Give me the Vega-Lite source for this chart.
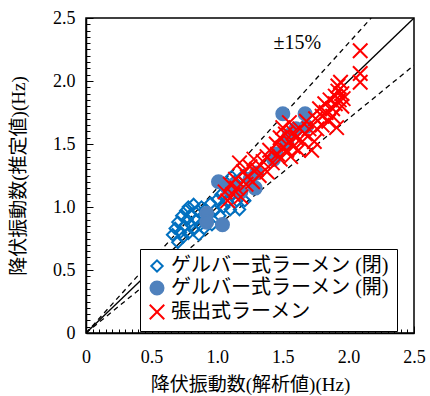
{
  "$schema": "https://vega.github.io/schema/vega-lite/v6.json",
  "width": 328,
  "height": 315,
  "autosize": {"type": "none"},
  "padding": {"left": 86, "top": 18, "right": 16, "bottom": 63},
  "background": "white",
  "config": {
    "view": {"stroke": "black", "strokeWidth": 1.5},
    "axis": {"grid": false, "tickColor": "black", "tickWidth": 1, "domainColor": "black", "domainWidth": 1.5,
      "labelFont": "Liberation Serif", "labelFontSize": 18, "labelColor": "black", "labelOverlap": false, "labelFlush": false,
      "titleFont": "Liberation Serif, Noto Sans CJK JP", "titleFontSize": 19, "titleFontWeight": "normal", "titleColor": "black"}
  },
  "resolve": {"axis": {"x": "independent", "y": "independent"}},
  "datasets": {
    "pts": [
      {"t": "ゲルバー式ラーメン (閉)", "x": 0.66, "y": 0.78},
      {"t": "ゲルバー式ラーメン (閉)", "x": 0.68, "y": 0.83},
      {"t": "ゲルバー式ラーメン (閉)", "x": 0.70, "y": 0.72},
      {"t": "ゲルバー式ラーメン (閉)", "x": 0.70, "y": 0.88},
      {"t": "ゲルバー式ラーメン (閉)", "x": 0.72, "y": 0.80},
      {"t": "ゲルバー式ラーメン (閉)", "x": 0.73, "y": 0.93},
      {"t": "ゲルバー式ラーメン (閉)", "x": 0.74, "y": 0.76},
      {"t": "ゲルバー式ラーメン (閉)", "x": 0.75, "y": 0.85},
      {"t": "ゲルバー式ラーメン (閉)", "x": 0.76, "y": 0.97},
      {"t": "ゲルバー式ラーメン (閉)", "x": 0.77, "y": 0.90},
      {"t": "ゲルバー式ラーメン (閉)", "x": 0.78, "y": 0.79},
      {"t": "ゲルバー式ラーメン (閉)", "x": 0.78, "y": 1.00},
      {"t": "ゲルバー式ラーメン (閉)", "x": 0.80, "y": 0.86},
      {"t": "ゲルバー式ラーメン (閉)", "x": 0.80, "y": 0.94},
      {"t": "ゲルバー式ラーメン (閉)", "x": 0.82, "y": 0.82},
      {"t": "ゲルバー式ラーメン (閉)", "x": 0.82, "y": 1.02},
      {"t": "ゲルバー式ラーメン (閉)", "x": 0.84, "y": 0.90},
      {"t": "ゲルバー式ラーメン (閉)", "x": 0.85, "y": 0.97},
      {"t": "ゲルバー式ラーメン (閉)", "x": 0.86, "y": 0.78},
      {"t": "ゲルバー式ラーメン (閉)", "x": 0.87, "y": 0.86},
      {"t": "ゲルバー式ラーメン (閉)", "x": 0.88, "y": 1.00},
      {"t": "ゲルバー式ラーメン (閉)", "x": 0.89, "y": 0.93},
      {"t": "ゲルバー式ラーメン (閉)", "x": 0.90, "y": 0.83},
      {"t": "ゲルバー式ラーメン (閉)", "x": 0.91, "y": 0.98},
      {"t": "ゲルバー式ラーメン (閉)", "x": 0.92, "y": 0.88},
      {"t": "ゲルバー式ラーメン (閉)", "x": 0.94, "y": 0.94},
      {"t": "ゲルバー式ラーメン (閉)", "x": 0.95, "y": 1.03},
      {"t": "ゲルバー式ラーメン (閉)", "x": 0.96, "y": 0.86},
      {"t": "ゲルバー式ラーメン (閉)", "x": 0.98, "y": 0.97},
      {"t": "ゲルバー式ラーメン (閉)", "x": 1.00, "y": 1.06},
      {"t": "ゲルバー式ラーメン (閉)", "x": 1.02, "y": 0.93},
      {"t": "ゲルバー式ラーメン (閉)", "x": 1.03, "y": 1.10},
      {"t": "ゲルバー式ラーメン (閉)", "x": 1.05, "y": 1.00},
      {"t": "ゲルバー式ラーメン (閉)", "x": 1.07, "y": 1.14},
      {"t": "ゲルバー式ラーメン (閉)", "x": 1.08, "y": 1.04},
      {"t": "ゲルバー式ラーメン (閉)", "x": 1.10, "y": 0.98},
      {"t": "ゲルバー式ラーメン (閉)", "x": 1.11, "y": 1.24},
      {"t": "ゲルバー式ラーメン (閉)", "x": 1.12, "y": 1.10},
      {"t": "ゲルバー式ラーメン (閉)", "x": 1.13, "y": 1.20},
      {"t": "ゲルバー式ラーメン (閉)", "x": 1.15, "y": 1.05},
      {"t": "ゲルバー式ラーメン (閉)", "x": 1.17, "y": 0.98},
      {"t": "ゲルバー式ラーメン (閉)", "x": 1.18, "y": 1.13},
      {"t": "ゲルバー式ラーメン (閉)", "x": 1.20, "y": 1.25},
      {"t": "ゲルバー式ラーメン (閉)", "x": 1.21, "y": 1.05},
      {"t": "ゲルバー式ラーメン (開)", "x": 0.92, "y": 0.95},
      {"t": "ゲルバー式ラーメン (開)", "x": 0.92, "y": 0.88},
      {"t": "ゲルバー式ラーメン (開)", "x": 1.04, "y": 0.86},
      {"t": "ゲルバー式ラーメン (開)", "x": 1.01, "y": 1.20},
      {"t": "ゲルバー式ラーメン (開)", "x": 1.08, "y": 1.15},
      {"t": "ゲルバー式ラーメン (開)", "x": 1.12, "y": 1.17},
      {"t": "ゲルバー式ラーメン (開)", "x": 1.18, "y": 1.12},
      {"t": "ゲルバー式ラーメン (開)", "x": 1.29, "y": 1.15},
      {"t": "ゲルバー式ラーメン (開)", "x": 1.30, "y": 1.27},
      {"t": "ゲルバー式ラーメン (開)", "x": 1.25, "y": 1.22},
      {"t": "ゲルバー式ラーメン (開)", "x": 1.43, "y": 1.38},
      {"t": "ゲルバー式ラーメン (開)", "x": 1.45, "y": 1.42},
      {"t": "ゲルバー式ラーメン (開)", "x": 1.53, "y": 1.51},
      {"t": "ゲルバー式ラーメン (開)", "x": 1.55, "y": 1.57},
      {"t": "ゲルバー式ラーメン (開)", "x": 1.50, "y": 1.74},
      {"t": "ゲルバー式ラーメン (開)", "x": 1.67, "y": 1.74},
      {"t": "ゲルバー式ラーメン (開)", "x": 1.68, "y": 1.64},
      {"t": "ゲルバー式ラーメン (開)", "x": 1.60, "y": 1.62},
      {"t": "張出式ラーメン", "x": 1.06, "y": 1.12},
      {"t": "張出式ラーメン", "x": 1.08, "y": 1.05},
      {"t": "張出式ラーメン", "x": 1.10, "y": 1.18},
      {"t": "張出式ラーメン", "x": 1.12, "y": 1.10},
      {"t": "張出式ラーメン", "x": 1.14, "y": 1.22},
      {"t": "張出式ラーメン", "x": 1.15, "y": 1.15},
      {"t": "張出式ラーメン", "x": 1.17, "y": 1.35},
      {"t": "張出式ラーメン", "x": 1.18, "y": 1.08},
      {"t": "張出式ラーメン", "x": 1.20, "y": 1.28},
      {"t": "張出式ラーメン", "x": 1.22, "y": 1.18},
      {"t": "張出式ラーメン", "x": 1.23, "y": 1.24},
      {"t": "張出式ラーメン", "x": 1.25, "y": 1.32},
      {"t": "張出式ラーメン", "x": 1.27, "y": 1.20},
      {"t": "張出式ラーメン", "x": 1.28, "y": 1.38},
      {"t": "張出式ラーメン", "x": 1.30, "y": 1.30},
      {"t": "張出式ラーメン", "x": 1.32, "y": 1.25},
      {"t": "張出式ラーメン", "x": 1.35, "y": 1.36},
      {"t": "張出式ラーメン", "x": 1.38, "y": 1.40},
      {"t": "張出式ラーメン", "x": 1.38, "y": 1.28},
      {"t": "張出式ラーメン", "x": 1.40, "y": 1.45},
      {"t": "張出式ラーメン", "x": 1.42, "y": 1.35},
      {"t": "張出式ラーメン", "x": 1.45, "y": 1.50},
      {"t": "張出式ラーメン", "x": 1.46, "y": 1.42},
      {"t": "張出式ラーメン", "x": 1.48, "y": 1.55},
      {"t": "張出式ラーメン", "x": 1.48, "y": 1.38},
      {"t": "張出式ラーメン", "x": 1.50, "y": 1.63},
      {"t": "張出式ラーメン", "x": 1.50, "y": 1.47},
      {"t": "張出式ラーメン", "x": 1.52, "y": 1.58},
      {"t": "張出式ラーメン", "x": 1.53, "y": 1.45},
      {"t": "張出式ラーメン", "x": 1.55, "y": 1.67},
      {"t": "張出式ラーメン", "x": 1.55, "y": 1.52},
      {"t": "張出式ラーメン", "x": 1.56, "y": 1.40},
      {"t": "張出式ラーメン", "x": 1.58, "y": 1.59},
      {"t": "張出式ラーメン", "x": 1.58, "y": 1.48},
      {"t": "張出式ラーメン", "x": 1.60, "y": 1.55},
      {"t": "張出式ラーメン", "x": 1.62, "y": 1.45},
      {"t": "張出式ラーメン", "x": 1.63, "y": 1.62},
      {"t": "張出式ラーメン", "x": 1.65, "y": 1.52},
      {"t": "張出式ラーメン", "x": 1.67, "y": 1.58},
      {"t": "張出式ラーメン", "x": 1.68, "y": 1.68},
      {"t": "張出式ラーメン", "x": 1.70, "y": 1.62},
      {"t": "張出式ラーメン", "x": 1.72, "y": 1.45},
      {"t": "張出式ラーメン", "x": 1.74, "y": 1.52},
      {"t": "張出式ラーメン", "x": 1.75, "y": 1.70},
      {"t": "張出式ラーメン", "x": 1.76, "y": 1.62},
      {"t": "張出式ラーメン", "x": 1.78, "y": 1.78},
      {"t": "張出式ラーメン", "x": 1.80, "y": 1.72},
      {"t": "張出式ラーメン", "x": 1.80, "y": 1.65},
      {"t": "張出式ラーメン", "x": 1.82, "y": 1.82},
      {"t": "張出式ラーメン", "x": 1.83, "y": 1.75},
      {"t": "張出式ラーメン", "x": 1.85, "y": 1.68},
      {"t": "張出式ラーメン", "x": 1.86, "y": 1.85},
      {"t": "張出式ラーメン", "x": 1.88, "y": 1.78},
      {"t": "張出式ラーメン", "x": 1.88, "y": 1.72},
      {"t": "張出式ラーメン", "x": 1.90, "y": 1.88},
      {"t": "張出式ラーメン", "x": 1.90, "y": 1.82},
      {"t": "張出式ラーメン", "x": 1.91, "y": 1.63},
      {"t": "張出式ラーメン", "x": 1.92, "y": 1.96},
      {"t": "張出式ラーメン", "x": 1.92, "y": 1.92},
      {"t": "張出式ラーメン", "x": 1.93, "y": 1.85},
      {"t": "張出式ラーメン", "x": 1.94, "y": 1.99},
      {"t": "張出式ラーメン", "x": 1.95, "y": 1.90},
      {"t": "張出式ラーメン", "x": 1.95, "y": 1.80},
      {"t": "張出式ラーメン", "x": 1.96, "y": 1.86},
      {"t": "張出式ラーメン", "x": 2.09, "y": 2.24},
      {"t": "張出式ラーメン", "x": 2.09, "y": 2.06},
      {"t": "張出式ラーメン", "x": 2.09, "y": 1.99}
    ],
    "lines": [
      {"k": "eq", "x": 0, "y": 0},
      {"k": "eq", "x": 2.5, "y": 2.5}
    ],
    "dash": [
      {"k": "up", "x": 0, "y": 0},
      {"k": "up", "x": 2.1739, "y": 2.5},
      {"k": "lo", "x": 0, "y": 0},
      {"k": "lo", "x": 2.5, "y": 2.125}
    ],
    "lab": [
      {"label": "±15%", "x": 1.43, "y": 2.30}
    ]
  },
  "layer": [
    {
      "data": {"name": "lines"},
      "mark": {"type": "line", "color": "black", "strokeWidth": 1.3, "clip": true},
      "encoding": {
        "x": {"field": "x", "type": "quantitative", "scale": {"domain": [0, 2.5], "nice": false},
          "axis": {
            "orient": "bottom", "title": null, "labels": false, "domain": false,
            "values": [0.05,0.1,0.15,0.2,0.25,0.3,0.35,0.4,0.45,0.55,0.6,0.65,0.7,0.75,0.8,0.85,0.9,0.95,1.05,1.1,1.15,1.2,1.25,1.3,1.35,1.4,1.45,1.55,1.6,1.65,1.7,1.75,1.8,1.85,1.9,1.95,2.05,2.1,2.15,2.2,2.25,2.3,2.35,2.4,2.45],
            "tickSize": -4
          }
        },
        "y": {"field": "y", "type": "quantitative", "scale": {"domain": [0, 2.5], "nice": false},
          "axis": {
            "orient": "left", "title": null, "labels": false, "domain": false,
            "values": [0.05,0.1,0.15,0.2,0.25,0.3,0.35,0.4,0.45,0.55,0.6,0.65,0.7,0.75,0.8,0.85,0.9,0.95,1.05,1.1,1.15,1.2,1.25,1.3,1.35,1.4,1.45,1.55,1.6,1.65,1.7,1.75,1.8,1.85,1.9,1.95,2.05,2.1,2.15,2.2,2.25,2.3,2.35,2.4,2.45],
            "tickSize": -4
          }
        }
      }
    },
    {
      "data": {"name": "dash"},
      "mark": {"type": "line", "color": "black", "strokeWidth": 1.3, "strokeDash": [5, 4], "clip": true},
      "encoding": {
        "x": {"field": "x", "type": "quantitative", "axis": null},
        "y": {"field": "y", "type": "quantitative", "axis": null},
        "detail": {"field": "k", "type": "nominal"}
      }
    },
    {
      "data": {"name": "pts"},
      "mark": {"type": "point", "strokeWidth": 2, "opacity": 1, "filled": false},
      "encoding": {
        "x": {"field": "x", "type": "quantitative",
          "axis": {
            "orient": "bottom", "title": "降伏振動数(解析値)(Hz)",
            "values": [0, 0.5, 1, 1.5, 2, 2.5],
            "labelExpr": "datum.value == 0 ? '0' : format(datum.value, '.1f')",
            "tickSize": -7, "labelPadding": 22, "titlePadding": 9
          }
        },
        "y": {"field": "y", "type": "quantitative",
          "axis": {
            "orient": "left", "title": "降伏振動数(推定値)(Hz)",
            "values": [0, 0.5, 1, 1.5, 2, 2.5],
            "labelExpr": "datum.value == 0 ? '0' : format(datum.value, '.1f')",
            "tickSize": -7, "labelPadding": 18, "titlePadding": 24
          }
        },
        "shape": {"field": "t", "type": "nominal",
          "scale": {"domain": ["ゲルバー式ラーメン (閉)", "ゲルバー式ラーメン (開)", "張出式ラーメン"], "range": ["diamond", "circle", "M-1,-1L1,1M-1,1L1,-1"]},
          "legend": {
            "title": null, "orient": "none", "legendX": 54, "legendY": 231,
            "padding": 7, "strokeColor": "black", "fillColor": "white",
            "labelFont": "Liberation Serif, Noto Sans CJK JP", "labelFontSize": 20, "labelColor": "black", "labelLimit": 400,
            "labelOffset": 4, "rowPadding": 1, "symbolStrokeWidth": 2,
            "encode": {"symbols": {"update": {"size": {"signal": "datum.value === '張出式ラーメン' ? 130 : datum.value === 'ゲルバー式ラーメン (開)' ? 200 : 110"}}}}
          }
        },
        "stroke": {"field": "t", "type": "nominal",
          "scale": {"domain": ["ゲルバー式ラーメン (閉)", "ゲルバー式ラーメン (開)", "張出式ラーメン"], "range": ["#0070C0", "#4F81BD", "#FF0000"]}},
        "fill": {"field": "t", "type": "nominal",
          "scale": {"domain": ["ゲルバー式ラーメン (閉)", "ゲルバー式ラーメン (開)", "張出式ラーメン"], "range": ["transparent", "#4F81BD", "transparent"]}},
        "size": {"field": "t", "type": "nominal",
          "scale": {"domain": ["ゲルバー式ラーメン (閉)", "ゲルバー式ラーメン (開)", "張出式ラーメン"], "range": [130, 210, 300]}}
      }
    },
    {
      "data": {"name": "lab"},
      "mark": {"type": "text", "align": "left", "baseline": "middle", "font": "Liberation Serif", "fontSize": 20, "color": "black"},
      "encoding": {
        "x": {"field": "x", "type": "quantitative", "axis": null},
        "y": {"field": "y", "type": "quantitative", "axis": null},
        "text": {"field": "label"}
      }
    }
  ]
}
